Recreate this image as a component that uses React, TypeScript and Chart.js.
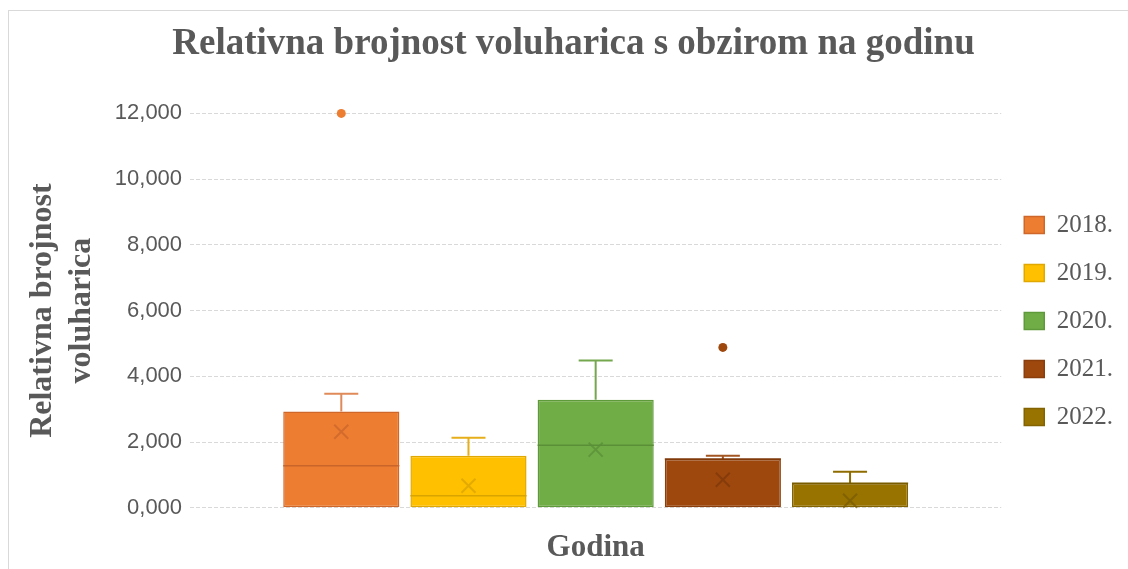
import React, { useEffect, useRef } from "react";
import { Chart, registerables } from "chart.js";

Chart.register(...registerables);

const years = ["2018.", "2019.", "2020.", "2021.", "2022."];
const q1Values = [0, 0, 0, 0, 0];
const q3Values = [2.93, 1.585, 3.29, 1.485, 0.75];
const medianValues = [1.28, 0.37, 1.9, 1.485, 0.75];
const meanValues = [2.315, 0.67, 1.77, 0.855, 0.215];
const maxValues = [3.47, 2.13, 4.48, 1.585, 1.095];
const outlierValues = [[12.0], [], [], [4.88], []];
const yTicks = [0, 2, 4, 6, 8, 10, 12];

const fillColors = ["#ED7D31", "#FFC000", "#70AD47", "#9E480E", "#997300"];
const edgeColors = ["#D0672A", "#E0A800", "#5F9A3A", "#8A3E0B", "#836200"];
const markColors = ["#C9652B", "#D9A300", "#5A8F38", "#7E380A", "#7A5C00"];
const whiskerColors = ["#E08A5A", "#E6AE1A", "#75A84E", "#A35522", "#8F6C00"];

const boxPlugin = {
  id: "boxExtras",
  afterDatasetsDraw(chart: any) {
    const ctx = chart.ctx;
    const y = chart.scales.y;
    years.forEach((_, i) => {
      const meta = chart.getDatasetMeta(i);
      const bar = meta.data[0];
      if (!bar) return;
      const x = bar.x;
      const w = bar.width;
      ctx.save();
      // whisker
      ctx.strokeStyle = whiskerColors[i];
      ctx.lineWidth = 2;
      const yq3 = y.getPixelForValue(q3Values[i]);
      const ymax = y.getPixelForValue(maxValues[i]);
      ctx.beginPath();
      ctx.moveTo(x, yq3);
      ctx.lineTo(x, ymax);
      ctx.moveTo(x - 17, ymax);
      ctx.lineTo(x + 17, ymax);
      ctx.stroke();
      // median
      ctx.strokeStyle = markColors[i];
      ctx.lineWidth = 1.5;
      const ymed = y.getPixelForValue(medianValues[i]);
      ctx.beginPath();
      ctx.moveTo(x - w / 2, ymed);
      ctx.lineTo(x + w / 2, ymed);
      ctx.stroke();
      // mean X
      const ym = y.getPixelForValue(meanValues[i]);
      const s = 7;
      ctx.lineWidth = 2;
      ctx.globalAlpha = 0.75;
      ctx.beginPath();
      ctx.moveTo(x - s, ym - s);
      ctx.lineTo(x + s, ym + s);
      ctx.moveTo(x + s, ym - s);
      ctx.lineTo(x - s, ym + s);
      ctx.stroke();
      ctx.globalAlpha = 1;
      // outliers
      ctx.fillStyle = fillColors[i];
      outlierValues[i].forEach((v) => {
        ctx.beginPath();
        ctx.arc(x, y.getPixelForValue(v), 4.5, 0, Math.PI * 2);
        ctx.fill();
      });
      ctx.restore();
    });
  },
};

export default function App() {
  const ref = useRef<HTMLCanvasElement | null>(null);
  useEffect(() => {
    if (!ref.current) return;
    const chart = new Chart(ref.current, {
      type: "bar",
      data: {
        labels: [""],
        datasets: years.map((yr, i) => ({
          label: yr,
          data: [[q1Values[i], q3Values[i]]] as any,
          backgroundColor: fillColors[i],
          borderColor: edgeColors[i],
          borderWidth: 1.5,
          borderSkipped: false,
          categoryPercentage: 0.784,
          barPercentage: 0.913,
        })),
      },
      options: {
        animation: false,
        responsive: true,
        maintainAspectRatio: false,
        layout: { padding: { left: 15, right: 5, top: 0, bottom: 8 } },
        plugins: {
          tooltip: { enabled: false },
          title: {
            display: true,
            text: "Relativna brojnost voluharica s obzirom na godinu",
            color: "#595959",
            font: { family: "Liberation Serif", size: 37, weight: "bold" },
            padding: { top: 11, bottom: 47 },
          },
          legend: {
            position: "right",
            title: {
              display: true,
              text: " ",
              font: { family: "Liberation Serif", size: 25 },
              padding: 17,
            },
            labels: {
              color: "#595959",
              font: { family: "Liberation Serif", size: 25 },
              boxWidth: 20,
              boxHeight: 17,
              padding: 23,
            },
          },
        },
        scales: {
          x: {
            grid: { display: false },
            border: { display: false },
            ticks: { display: false },
            title: {
              display: true,
              text: "Godina",
              color: "#595959",
              font: { family: "Liberation Serif", size: 31, weight: "bold" },
              padding: { top: 14, bottom: 0 },
            },
          },
          y: {
            min: 0,
            max: 12,
            afterBuildTicks: (axis: any) => {
              axis.ticks = yTicks.map((v) => ({ value: v }));
            },
            ticks: {
              color: "#595959",
              font: { family: "Liberation Sans", size: 22 },
              padding: 8,
              callback: (v: any) => Number(v).toFixed(3).replace(".", ","),
            },
            grid: {
              color: "#d9d9d9",
              drawTicks: false,
            },
            border: { display: false, dash: [4, 2] },
            title: {
              display: true,
              text: ["Relativna brojnost", "voluharica"],
              color: "#595959",
              font: { family: "Liberation Serif", size: 32, weight: "bold", lineHeight: 1.2 },
              padding: { top: 0, bottom: 6 },
            },
          },
        },
      },
      plugins: [boxPlugin],
    });
    return () => chart.destroy();
  }, []);
  return (
    <div
      style={{
        position: "absolute",
        left: 8,
        top: 10,
        width: 1120,
        height: 565,
        borderTop: "1px solid #d9d9d9",
        borderLeft: "1px solid #d9d9d9",
        boxSizing: "border-box",
        background: "#fff",
      }}
    >
      <canvas ref={ref} />
    </div>
  );
}
